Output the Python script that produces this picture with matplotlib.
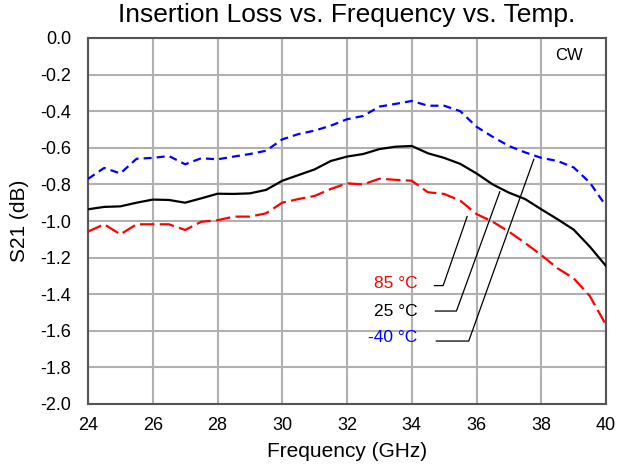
import matplotlib
matplotlib.use("Agg")
import matplotlib.pyplot as plt
from matplotlib.patches import Rectangle
import numpy as np

plt.rcParams['font.family'] = ['Liberation Sans', 'DejaVu Sans']

freq = [24.0, 24.5, 25.0, 25.5, 26.0, 26.5, 27.0, 27.5, 28.0, 28.5, 29.0, 29.5,
        30.0, 30.5, 31.0, 31.5, 32.0, 32.5, 33.0, 33.5, 34.0, 34.5, 35.0, 35.5,
        36.0, 36.5, 37.0, 37.5, 38.0, 38.5, 39.0, 39.5, 40.0]

s21_m40 = [-0.77, -0.71, -0.74, -0.66, -0.655, -0.645, -0.69, -0.657, -0.663, -0.648,
           -0.634, -0.616, -0.554, -0.525, -0.506, -0.479, -0.444, -0.426, -0.375, -0.36,
           -0.344, -0.37, -0.37, -0.40, -0.485, -0.54, -0.59, -0.625, -0.655, -0.672,
           -0.707, -0.79, -0.918]

s21_25 = [-0.936, -0.923, -0.92, -0.90, -0.883, -0.885, -0.90, -0.876, -0.851, -0.852,
          -0.849, -0.83, -0.78, -0.749, -0.718, -0.672, -0.648, -0.634, -0.607, -0.594,
          -0.59, -0.63, -0.655, -0.688, -0.74, -0.80, -0.845, -0.88, -0.936, -0.99,
          -1.047, -1.14, -1.246]

s21_85 = [-1.058, -1.018, -1.073, -1.018, -1.018, -1.018, -1.049, -1.004, -0.996, -0.976,
          -0.976, -0.958, -0.90, -0.88, -0.863, -0.825, -0.794, -0.80, -0.769, -0.775,
          -0.78, -0.843, -0.852, -0.889, -0.962, -1.004, -1.058, -1.12, -1.186, -1.258,
          -1.313, -1.41, -1.568]

labels = ["85 °C", "25 °C", "-40 °C"]
colors = ["#ff0000", "#000000", "#0000ff"]

fig = plt.figure(figsize=(6.18, 4.70), dpi=100)
ax = fig.add_axes([88/618, 1-404/470, (606-88)/618, (404-38)/470])

yt = np.round(np.arange(-2.0, 0.01, 0.2), 1)
ax.set_xlim(24, 40)
ax.set_ylim(-2.0, 0.0)
ax.set_xticks(np.arange(24, 41, 2))
ax.set_yticks(yt)
ax.set_yticklabels(["0.0" if v == 0 else f"{v:.1f}" for v in yt])
ax.grid(True, color="#b0b0b0", linewidth=1.5, zorder=0)
ax.tick_params(length=0, labelsize=13)
ax.tick_params(axis="y", pad=12)
ax.tick_params(axis="x", pad=9)
for s in ax.spines.values():
    s.set_color("#555555")
    s.set_linewidth(1.5)

# white box behind labels
ax.add_patch(Rectangle((32.48, -1.667), 2.25, 0.416, facecolor="white", edgecolor="none", zorder=1))

ax.plot(freq, s21_m40, color="#0000ff", linestyle=(0, (3.6, 2.3)), linewidth=1.6, zorder=3)
ax.plot(freq, s21_25, color="#000000", linestyle="-", linewidth=1.6, zorder=3)
ax.plot(freq, s21_85, color="#ff0000", linestyle=(0, (6.5, 2.4)), linewidth=1.6, zorder=3)

# annotation leaders
leaders = [
    ((35.71, -0.976), (34.97, -1.353), (34.70, -1.353), -1.340),
    ((36.72, -0.84), (35.38, -1.492), (34.73, -1.492), -1.492),
    ((37.77, -0.663), (35.76, -1.656), (34.76, -1.656), -1.636),
]
for (p0, p1, p2, ty), lab, c in zip(leaders, labels, colors):
    ax.plot([p0[0], p1[0], p2[0]], [p0[1], p1[1], p2[1]], color="black", linewidth=0.9, zorder=4)
    ax.text(34.17, ty, lab, color=c, fontsize=12.5, ha="right", va="center", zorder=5)

ax.text(38.86, -0.093, "CW", fontsize=12, ha="center", va="center")

ax.set_xlabel("Frequency (GHz)", fontsize=15, labelpad=6)
ax.set_ylabel("S21 (dB)", fontsize=15, labelpad=8)
ax.set_title("Insertion Loss vs. Frequency vs. Temp.", fontsize=19, pad=11.5)

fig.savefig("out.png", dpi=100)
